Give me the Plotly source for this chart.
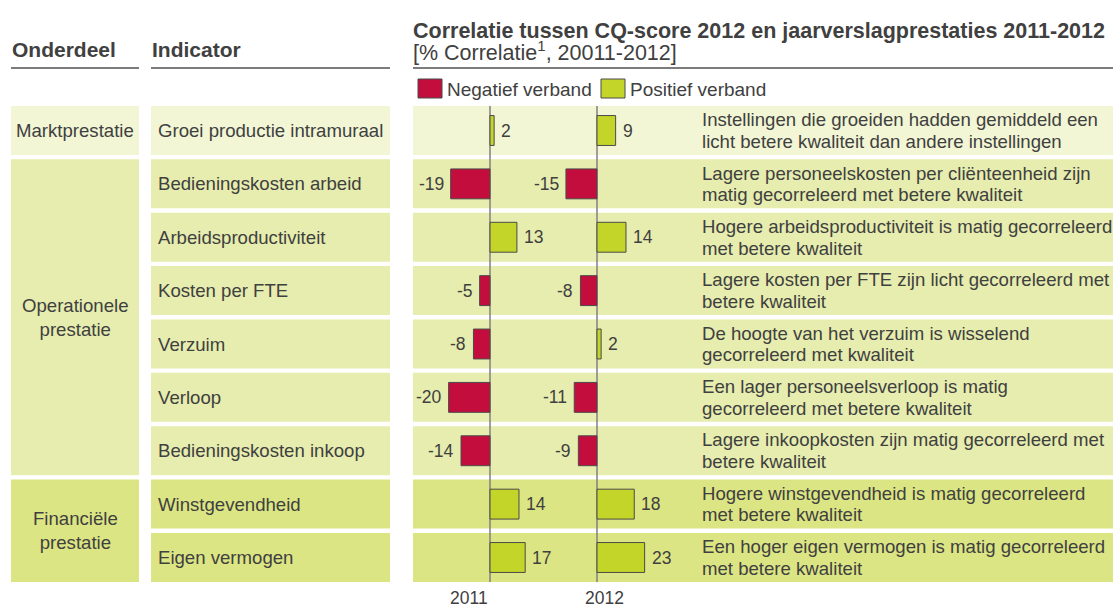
import plotly.graph_objects as go

# ---------------- data ----------------
indicators = [
    "Groei productie intramuraal",
    "Bedieningskosten arbeid",
    "Arbeidsproductiviteit",
    "Kosten per FTE",
    "Verzuim",
    "Verloop",
    "Bedieningskosten inkoop",
    "Winstgevendheid",
    "Eigen vermogen",
]
v2011 = [2, -19, 13, -5, -8, -20, -14, 14, 17]
v2012 = [9, -15, 14, -8, 2, -11, -9, 18, 23]
groups = ["Marktprestatie", "Operationele<br>prestatie", "Financiële<br>prestatie"]
group_first = [0, 1, 7]
group_last = [0, 6, 8]
explanations = [
    ["Instellingen die groeiden hadden gemiddeld een", "licht betere kwaliteit dan andere instellingen"],
    ["Lagere personeelskosten per cliënteenheid zijn", "matig gecorreleerd met betere kwaliteit"],
    ["Hogere arbeidsproductiviteit is matig gecorreleerd", "met betere kwaliteit"],
    ["Lagere kosten per FTE zijn licht gecorreleerd met", "betere kwaliteit"],
    ["De hoogte van het verzuim is wisselend", "gecorreleerd met kwaliteit"],
    ["Een lager personeelsverloop is matig", "gecorreleerd met betere kwaliteit"],
    ["Lagere inkoopkosten zijn matig gecorreleerd met", "betere kwaliteit"],
    ["Hogere winstgevendheid is matig gecorreleerd", "met betere kwaliteit"],
    ["Een hoger eigen vermogen is matig gecorreleerd", "met betere kwaliteit"],
]
years = ["2011", "2012"]
legend_labels = ["Negatief verband", "Positief verband"]
title = "Correlatie tussen CQ-score 2012 en jaarverslagprestaties 2011-2012"
subtitle = "[% Correlatie<sup>1</sup>, 20011-2012]"
headers = ["Onderdeel", "Indicator"]

# ---------------- style / layout ----------------
W, H = 1113, 605
FONT = "Liberation Sans, Arial, sans-serif"
TXT = "#404040"
RED = "#C30D3D"
GREEN = "#C4D52A"
EDGE = "#4a4a4a"
ZERO = "#808080"
BAND = ["#F2F6D5", "#E6EDAE", "#DCE583"]
group_band = [0, 1, 1, 1, 1, 1, 1, 2, 2]
FS = 18.6

ROW0_C, PITCH = 130.5, 53.375
PXU = 2.07
Z11, Z12 = 490, 597
HB = 0.459

def px(x):
    return x / W

def py(y):
    return 1 - y / H

rows = list(range(len(indicators)))
y_top = ROW0_C - 0.5 * PITCH
y_bot = ROW0_C + (len(rows) - 0.5) * PITCH

fig = go.Figure()

def col(v):
    return [RED if a < 0 else GREEN for a in v]

fig.add_trace(go.Bar(x=v2011, y=rows, orientation="h", xaxis="x", yaxis="y",
                     width=0.56, marker=dict(color=col(v2011), line=dict(color=EDGE, width=1)),
                     showlegend=False, hoverinfo="skip"))
fig.add_trace(go.Bar(x=v2012, y=rows, orientation="h", xaxis="x2", yaxis="y",
                     width=0.56, marker=dict(color=col(v2012), line=dict(color=EDGE, width=1)),
                     showlegend=False, hoverinfo="skip"))

shapes = []
ann = []

# background bands
for i in rows:
    c = BAND[group_band[i]]
    shapes.append(dict(type="rect", xref="paper", yref="y", x0=px(151), x1=px(390),
                       y0=i - HB, y1=i + HB, fillcolor=c, line=dict(width=0), layer="below"))
    shapes.append(dict(type="rect", xref="paper", yref="y", x0=px(413), x1=px(1113),
                       y0=i - HB, y1=i + HB, fillcolor=c, line=dict(width=0), layer="below"))
for g, (a, b) in enumerate(zip(group_first, group_last)):
    shapes.append(dict(type="rect", xref="paper", yref="y", x0=px(11), x1=px(139),
                       y0=a - HB, y1=b + HB, fillcolor=BAND[group_band[a]], line=dict(width=0),
                       layer="below"))
    ann.append(dict(xref="paper", yref="y", x=px(75), y=(a + b) / 2, text=groups[g],
                    showarrow=False, xanchor="center", yanchor="middle",
                    font=dict(size=FS, color=TXT, family=FONT)))

# zero lines
for xr in ["x", "x2"]:
    shapes.append(dict(type="line", xref=xr, yref="y", x0=0, x1=0, y0=-HB, y1=len(rows) - 1 + HB,
                       line=dict(color=ZERO, width=1.5), layer="below"))

# header lines
for x0, x1 in [(11, 139), (151, 390), (413, 1113)]:
    shapes.append(dict(type="line", xref="paper", yref="paper", x0=px(x0), x1=px(x1),
                       y0=py(68), y1=py(68), line=dict(color="#505050", width=1.5)))

# legend swatches
for x0, c in [(418, RED), (601, GREEN)]:
    shapes.append(dict(type="rect", xref="paper", yref="paper", x0=px(x0), x1=px(x0 + 24),
                       y0=py(98), y1=py(79), fillcolor=c, line=dict(color=EDGE, width=1)))
for x0, t in zip([445, 628], legend_labels):
    ann.append(dict(xref="paper", yref="paper", x=px(x0), y=py(89), text=t, showarrow=False,
                    xanchor="left", yanchor="middle", font=dict(size=19, color=TXT, family=FONT)))

# row texts
for i in rows:
    ann.append(dict(xref="paper", yref="y", x=px(156), y=i, text=indicators[i], showarrow=False,
                    xanchor="left", yanchor="middle", font=dict(size=FS, color=TXT, family=FONT)))
    for k, line in enumerate(explanations[i]):
        ann.append(dict(xref="paper", yref="y", x=px(700), y=i, yshift=10.8 - 21.6 * k,
                        text=line, showarrow=False, xanchor="left", yanchor="middle",
                        font=dict(size=FS, color=TXT, family=FONT)))
    for xr, v in [("x", v2011[i]), ("x2", v2012[i])]:
        ann.append(dict(xref=xr, yref="y", x=v, y=i, text=str(v), showarrow=False,
                        xanchor="left" if v > 0 else "right", xshift=5 if v > 0 else -5,
                        yanchor="middle", font=dict(size=17.5, color=TXT, family=FONT)))

# titles / headers
ann.append(dict(xref="paper", yref="paper", x=px(411), y=py(31), text="<b>" + title + "</b>",
                showarrow=False, xanchor="left", yanchor="middle",
                font=dict(size=21.5, color=TXT, family=FONT)))
ann.append(dict(xref="paper", yref="paper", x=px(411), y=py(51), text=subtitle,
                showarrow=False, xanchor="left", yanchor="middle",
                font=dict(size=21.5, color=TXT, family=FONT)))
for x0, t in zip([10, 150], headers):
    ann.append(dict(xref="paper", yref="paper", x=px(x0), y=py(50), text="<b>" + t + "</b>",
                    showarrow=False, xanchor="left", yanchor="middle",
                    font=dict(size=21, color=TXT, family=FONT)))
for xc, t in zip([469, 604], years):
    ann.append(dict(xref="paper", yref="paper", x=px(xc), y=py(598), text=t, showarrow=False,
                    xanchor="center", yanchor="middle", font=dict(size=17.5, color=TXT, family=FONT)))

fig.update_layout(
    width=W, height=H, margin=dict(l=0, r=0, t=0, b=0),
    paper_bgcolor="white", plot_bgcolor="rgba(0,0,0,0)",
    barmode="overlay", showlegend=False,
    font=dict(family=FONT, color=TXT),
    xaxis=dict(domain=[px(413), px(597)], range=[-(Z11 - 413) / PXU, (597 - Z11) / PXU],
               anchor="y", visible=False, fixedrange=True),
    xaxis2=dict(domain=[px(490), px(700)], range=[-(Z12 - 490) / PXU, (700 - Z12) / PXU],
                anchor="y", visible=False, fixedrange=True),
    yaxis=dict(domain=[py(y_bot), py(y_top)], range=[len(rows) - 0.5, -0.5],
               anchor="x", visible=False, fixedrange=True),
    shapes=shapes, annotations=ann,
)

fig.write_html("out.html", config={"displayModeBar": False},
               post_script="document.body.style.margin='0';document.body.style.overflow='hidden';")
